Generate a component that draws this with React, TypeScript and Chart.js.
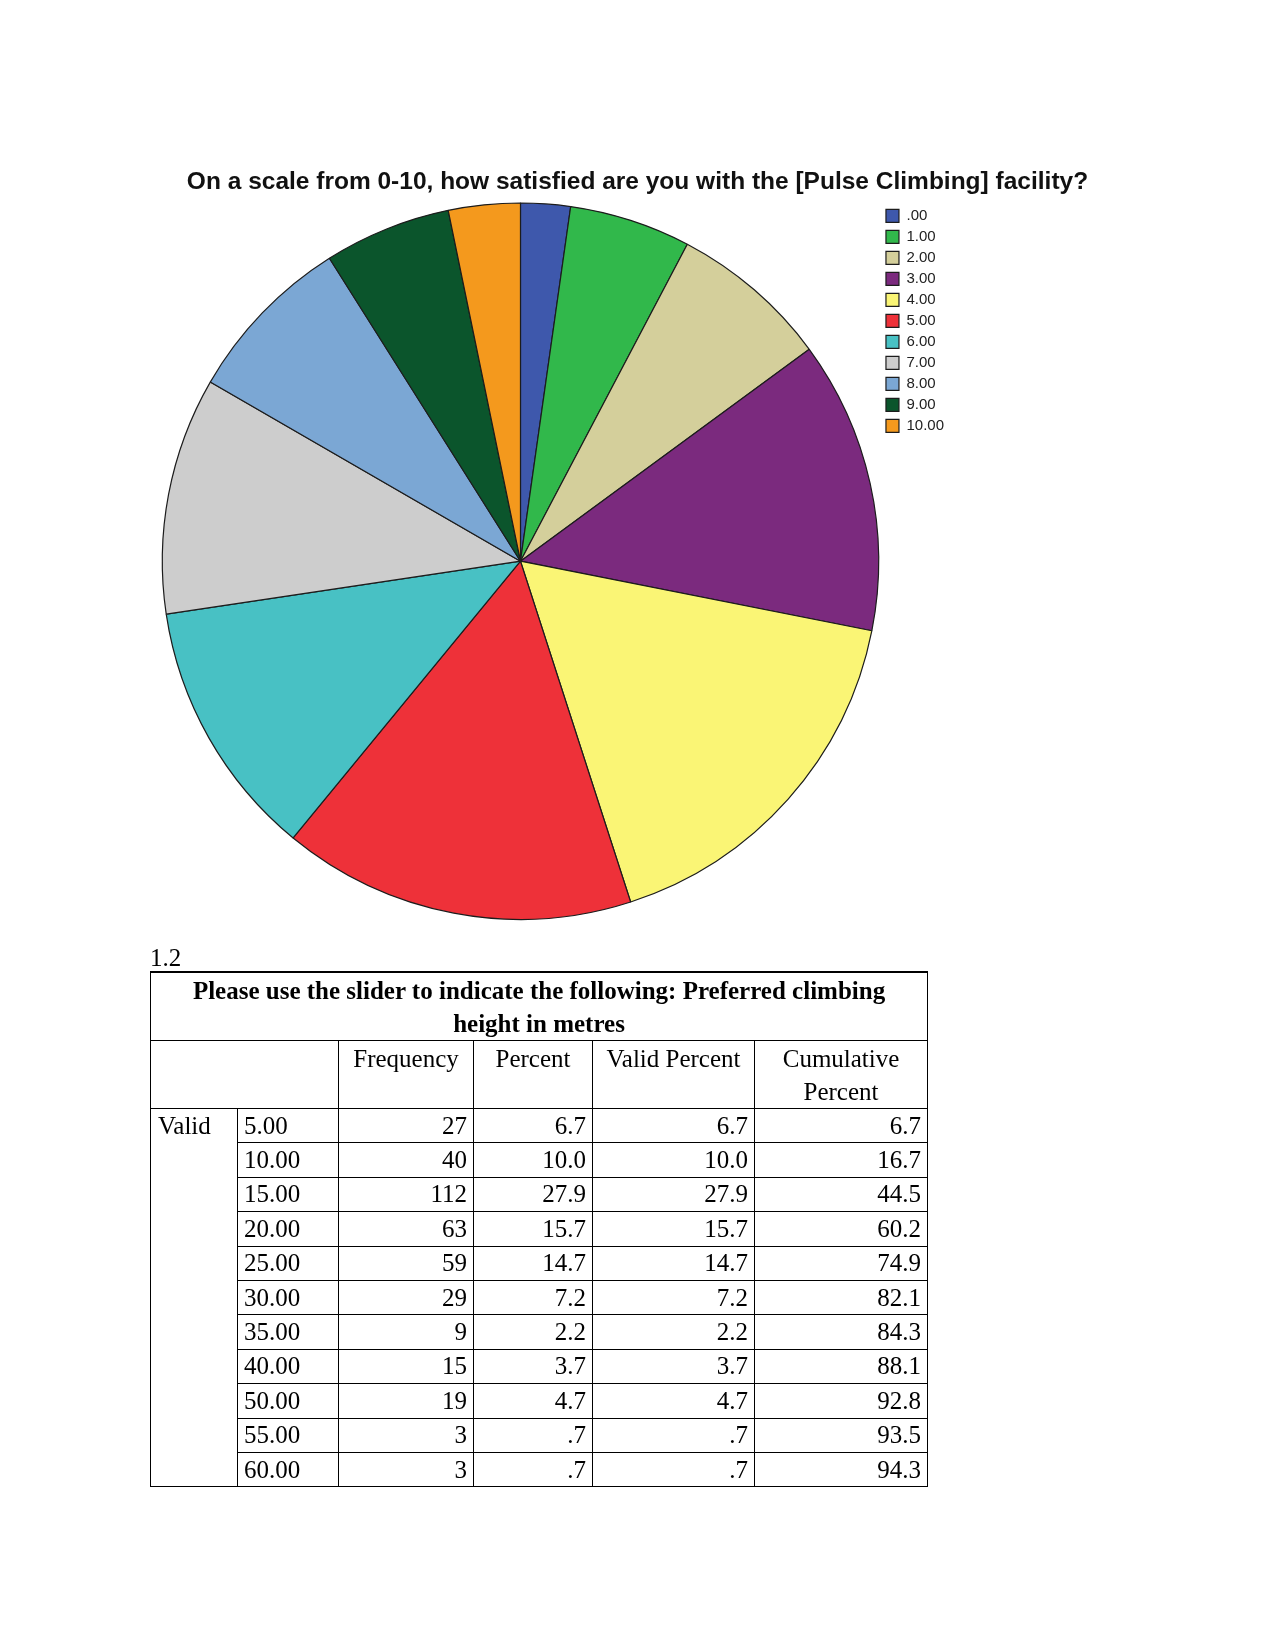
import React, { useEffect, useRef } from 'react';
import { Chart, registerables } from 'chart.js';

Chart.register(...registerables);

// ---- Pie chart data ----
const chartTitle = 'On a scale from 0-10, how satisfied are you with the [Pulse Climbing] facility?';
const ratingLabels = ['.00', '1.00', '2.00', '3.00', '4.00', '5.00', '6.00', '7.00', '8.00', '9.00', '10.00'];
const ratingCounts = [9, 22, 29, 53, 68, 64, 47, 43, 31, 23, 13];
const sliceColors = [
  '#3E58AC', '#31B84B', '#D4CF9B', '#7B2A7E', '#FAF575', '#EE3139',
  '#48C1C4', '#CDCDCD', '#7BA7D4', '#0B552C', '#F4991D',
];

// ---- Table data ----
const sectionNumber = '1.2';
const tableTitleLine1 = 'Please use the slider to indicate the following: Preferred climbing';
const tableTitleLine2 = 'height in metres';
const columnHeaders = ['Frequency', 'Percent', 'Valid Percent', 'Cumulative Percent'];
const validLabel = 'Valid';
const heightLabels = ['5.00', '10.00', '15.00', '20.00', '25.00', '30.00', '35.00', '40.00', '50.00', '55.00', '60.00'];
const frequencies = [27, 40, 112, 63, 59, 29, 9, 15, 19, 3, 3];
const percents = ['6.7', '10.0', '27.9', '15.7', '14.7', '7.2', '2.2', '3.7', '4.7', '.7', '.7'];
const validPercents = ['6.7', '10.0', '27.9', '15.7', '14.7', '7.2', '2.2', '3.7', '4.7', '.7', '.7'];
const cumulativePercents = ['6.7', '16.7', '44.5', '60.2', '74.9', '82.1', '84.3', '88.1', '92.8', '93.5', '94.3'];

const centerTitlePlugin = {
  id: 'centerTitle',
  afterLayout(chart: any) {
    const t = chart.titleBlock;
    if (t) {
      t.left = 0;
      t.right = chart.width;
      t.width = chart.width;
    }
  },
};

function PieChart() {
  const ref = useRef<HTMLCanvasElement | null>(null);
  useEffect(() => {
    if (!ref.current) return;
    const chart = new Chart(ref.current, {
      type: 'pie',
      data: {
        labels: ratingLabels,
        datasets: [
          {
            data: ratingCounts,
            backgroundColor: sliceColors,
            borderColor: '#1c1c1c',
            borderWidth: 1.2,
          },
        ],
      },
      plugins: [centerTitlePlugin],
      options: {
        responsive: false,
        animation: false,
        devicePixelRatio: 1,
        layout: { padding: { left: 161, right: 321, top: 168, bottom: 30 } },
        plugins: {
          title: {
            display: true,
            text: chartTitle,
            color: '#111',
            font: { family: "'Liberation Sans', Arial, sans-serif", size: 24.5, weight: 'bold' },
            padding: { top: 0, bottom: 5 },
          },
          legend: {
            display: true,
            position: 'right',
            align: 'start',
            fullSize: false,
            labels: {
              boxWidth: 13,
              boxHeight: 13,
              padding: 6,
              color: '#222',
              font: { family: "'Liberation Sans', Arial, sans-serif", size: 15 },
            },
          },
          tooltip: { enabled: false },
        },
      },
    });
    return () => chart.destroy();
  }, []);
  return (
    <canvas
      ref={ref}
      width={1275}
      height={950}
      style={{ position: 'absolute', left: 0, top: 0, width: 1275, height: 950, display: 'block' }}
    />
  );
}

const cellBase: React.CSSProperties = {
  border: '1px solid #000',
  padding: '0 6px',
  lineHeight: '32px',
};

export default function App() {
  const colWidths = [87, 101, 135, 119, 162, 173];
  const serif = "'Liberation Serif', 'Times New Roman', serif";
  return (
    <div style={{ position: 'absolute', left: 0, top: 0, width: 1275, height: 1650, background: '#fff', overflow: 'hidden' }}>
      <PieChart />
      <div style={{ position: 'absolute', left: 150, top: 942, fontFamily: serif, fontSize: 25, lineHeight: '32px', color: '#000' }}>
        {sectionNumber}
      </div>
      <table
        style={{
          position: 'absolute',
          left: 150,
          top: 971,
          borderCollapse: 'collapse',
          tableLayout: 'fixed',
          width: colWidths.reduce((a, b) => a + b, 0),
          fontFamily: serif,
          fontSize: 25,
          color: '#000',
        }}
      >
        <colgroup>
          {colWidths.map((w, i) => (
            <col key={i} style={{ width: w }} />
          ))}
        </colgroup>
        <tbody>
          <tr style={{ height: 67 }}>
            <td colSpan={6} style={{ ...cellBase, borderTop: '2px solid #000', textAlign: 'center', fontWeight: 'bold', verticalAlign: 'top', paddingTop: 2, lineHeight: '32.5px' }}>
              {tableTitleLine1}
              <br />
              {tableTitleLine2}
            </td>
          </tr>
          <tr style={{ height: 67 }}>
            <td colSpan={2} style={{ ...cellBase }} />
            {columnHeaders.map((h, i) => (
              <td key={i} style={{ ...cellBase, textAlign: 'center', verticalAlign: 'top', paddingTop: 2, lineHeight: '32.5px' }}>
                {h}
              </td>
            ))}
          </tr>
          {heightLabels.map((lab, i) => (
            <tr key={lab} style={{ height: 34.4 }}>
              {i === 0 && (
                <td rowSpan={heightLabels.length} style={{ ...cellBase, verticalAlign: 'top', lineHeight: '34px', paddingLeft: 7 }}>
                  {validLabel}
                </td>
              )}
              <td style={{ ...cellBase }}>{lab}</td>
              <td style={{ ...cellBase, textAlign: 'right' }}>{frequencies[i]}</td>
              <td style={{ ...cellBase, textAlign: 'right' }}>{percents[i]}</td>
              <td style={{ ...cellBase, textAlign: 'right' }}>{validPercents[i]}</td>
              <td style={{ ...cellBase, textAlign: 'right' }}>{cumulativePercents[i]}</td>
            </tr>
          ))}
        </tbody>
      </table>
    </div>
  );
}
